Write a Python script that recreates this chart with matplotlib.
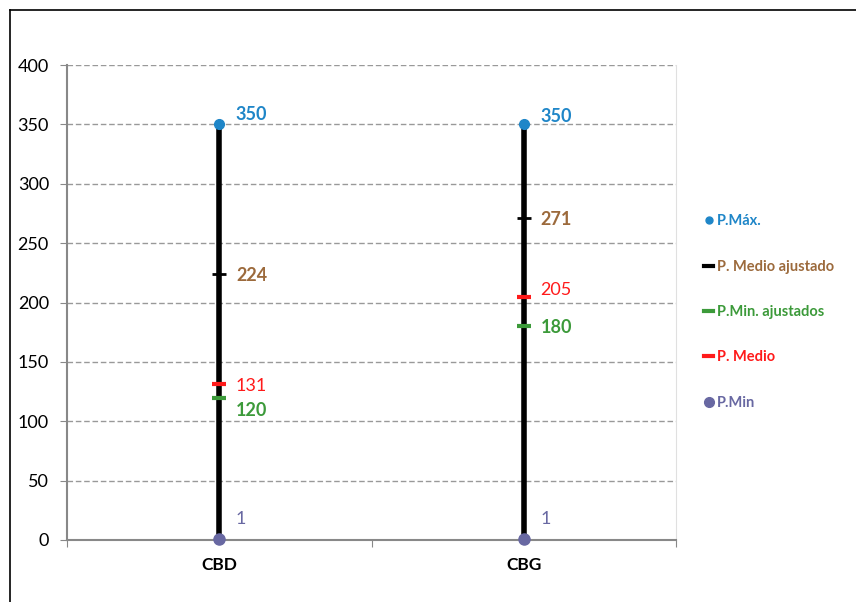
import matplotlib
matplotlib.use("Agg")
import matplotlib.pyplot as plt
from matplotlib.lines import Line2D

plt.rcParams['font.family'] = ['Lato', 'DejaVu Sans']

categories = ["CBD", "CBG"]
p_max = [350, 350]
p_medio_ajustado = [224, 271]
p_min_ajustados = [120, 180]
p_medio = [131, 205]
p_min = [1, 1]
yticks = [0, 50, 100, 150, 200, 250, 300, 350, 400]

c_max = "#1F86C8"
c_medaj = "#9C6A3C"
c_minaj = "#3C9A3A"
c_med = "#FF1A1A"
c_min = "#6868A2"

W, H = 856, 602
fig = plt.figure(figsize=(W / 100, H / 100), dpi=100)
ax = fig.add_axes([67 / W, (H - 540) / H, 609 / W, 475 / H])

x = [0.5, 1.5]

ax.vlines(x, p_min, p_max, color="black", linewidth=4, zorder=3)
ax.plot(x, p_max, "o", color=c_max, markersize=7, zorder=4, linestyle="none")
ax.plot(x, p_medio_ajustado, "_", color="black", markersize=10, markeredgewidth=2, zorder=4, linestyle="none")
ax.plot(x, p_min_ajustados, "_", color=c_minaj, markersize=10, markeredgewidth=3, zorder=4, linestyle="none")
ax.plot(x, p_medio, "_", color=c_med, markersize=10, markeredgewidth=3, zorder=4, linestyle="none")
ax.plot(x, p_min, "o", color=c_min, markersize=8, zorder=5, linestyle="none", clip_on=False)

fs = 13
# per-point label offsets (points), mimicking the reference's placement
off_max = [(12, 7), (12, 6)]
off_medaj = [(12, -1), (12, -1)]
off_med = [(12, -1), (12, 5)]
off_minaj = [(12, -9), (12, -1)]
off_min = [(12, 14), (12, 14)]
for i, xi in enumerate(x):
    ax.annotate(f"{p_max[i]}", (xi, p_max[i]), xytext=off_max[i], textcoords="offset points",
                color=c_max, fontsize=fs, fontweight="bold", va="center", ha="left")
    ax.annotate(f"{p_medio_ajustado[i]}", (xi, p_medio_ajustado[i]), xytext=off_medaj[i], textcoords="offset points",
                color=c_medaj, fontsize=fs, fontweight="bold", va="center", ha="left")
    ax.annotate(f"{p_medio[i]}", (xi, p_medio[i]), xytext=off_med[i], textcoords="offset points",
                color=c_med, fontsize=fs, va="center", ha="left")
    ax.annotate(f"{p_min_ajustados[i]}", (xi, p_min_ajustados[i]), xytext=off_minaj[i], textcoords="offset points",
                color=c_minaj, fontsize=fs, fontweight="bold", va="center", ha="left")
    ax.annotate(f"{p_min[i]}", (xi, p_min[i]), xytext=off_min[i], textcoords="offset points",
                color=c_min, fontsize=fs, va="center", ha="left")

ax.set_xlim(0, 2)
ax.set_ylim(0, 400)
ax.set_yticks(yticks)
ax.set_yticklabels([str(v) for v in yticks], fontsize=13)
ax.set_xticks([0, 1, 2])
ax.set_xticklabels([])
ax.set_xticks(x, minor=True)
ax.set_xticklabels(categories, minor=True, fontsize=12.5, fontweight="bold")
ax.tick_params(axis="x", which="minor", length=0, pad=12)
ax.tick_params(axis="x", which="major", length=5, color="#888888", direction="out")
ax.tick_params(axis="y", length=5, color="#888888", direction="out", pad=8)

ax.grid(axis="y", color="#999999", linestyle=(0, (4, 2)), linewidth=1)
ax.set_axisbelow(True)
ax.spines["top"].set_visible(False)
ax.spines["right"].set_color("#e0e0e0")
ax.spines["left"].set_color("#888888")
ax.spines["bottom"].set_color("#888888")
ax.spines["left"].set_linewidth(1.5)
ax.spines["bottom"].set_linewidth(1.5)

handles = [
    Line2D([], [], marker="o", color=c_max, linestyle="none", markersize=5),
    Line2D([], [], color="black", linewidth=3),
    Line2D([], [], color=c_minaj, linewidth=3),
    Line2D([], [], color=c_med, linewidth=3),
    Line2D([], [], marker="o", color=c_min, linestyle="none", markersize=7),
]
labels = ["P.Máx.", "P. Medio ajustado", "P.Min. ajustados", "P. Medio", "P.Min"]
leg = fig.legend(handles, labels, loc="center left", bbox_to_anchor=(691 / W, 1 - 312 / H),
                 frameon=False, handlelength=0.6, handletextpad=0.3,
                 labelspacing=2.15, prop={"weight": "bold", "size": 10.5},
                 labelcolor=[c_max, c_medaj, c_minaj, c_med, c_min])

# outer frame
fig.add_artist(Line2D([10 / W, 1], [1 - 10 / H, 1 - 10 / H], color="black", linewidth=1.2, transform=fig.transFigure))
fig.add_artist(Line2D([10 / W, 10 / W], [0, 1 - 10 / H], color="black", linewidth=1.2, transform=fig.transFigure))

fig.savefig("out.png", dpi=100)
